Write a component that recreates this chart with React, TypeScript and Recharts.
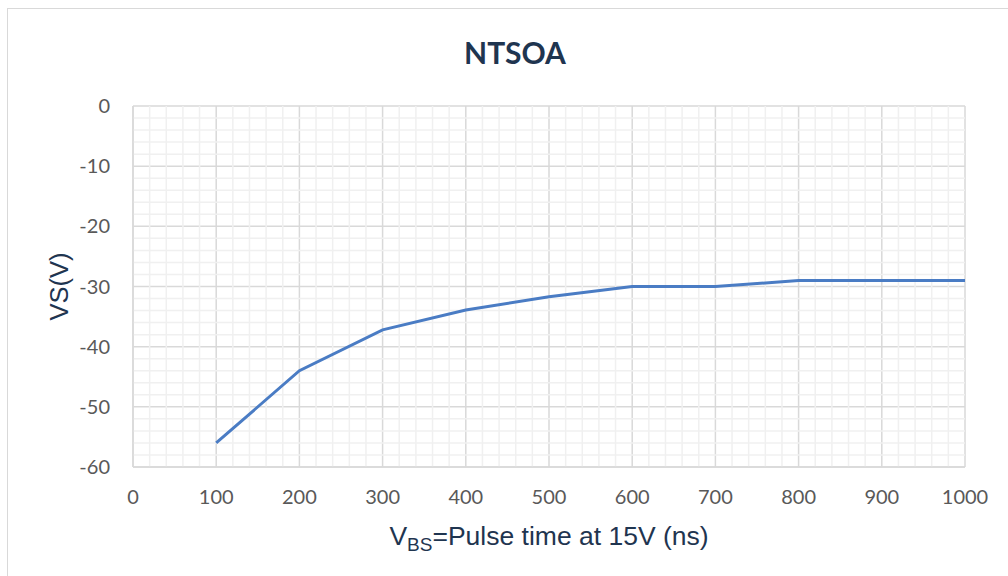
import { LineChart, Line, XAxis, YAxis, CartesianGrid, ReferenceLine, Label } from 'recharts';

// pulse time (ns) vs VS (V)
const pulseTime = [100, 200, 300, 400, 500, 600, 700, 800, 900, 1000];
const vsValues = [-56, -44, -37.2, -33.9, -31.7, -30, -30, -29, -29, -29];

const xTicks = [0, 100, 200, 300, 400, 500, 600, 700, 800, 900, 1000];
const yTicks = [-60, -50, -40, -30, -20, -10, 0];
const xMinor = [20, 40, 60, 80, 120, 140, 160, 180, 220, 240, 260, 280, 320, 340, 360, 380, 420, 440, 460, 480, 520, 540, 560, 580, 620, 640, 660, 680, 720, 740, 760, 780, 820, 840, 860, 880, 920, 940, 960, 980];
const yMinor = [-58, -56, -54, -52, -48, -46, -44, -42, -38, -36, -34, -32, -28, -26, -24, -22, -18, -16, -14, -12, -8, -6, -4, -2];

const data = pulseTime.map((t, i) => ({ t, vs: vsValues[i] }));

const TICK_COLOR = '#595959';
const NAVY = '#1f3550';
const MAJOR = '#d9d9d9';
const MINOR = '#f0f0f0';

/** X axis title with the "BS" subscript on V. */
function XTitle(props: any) {
  const vb = props.viewBox || {};
  const cx = vb.x + vb.width / 2;
  return (
    <text x={cx} y={545} textAnchor="middle" fill={NAVY} fontFamily="'Liberation Sans', Arial, sans-serif" fontSize={26.5}>
      <tspan>V</tspan>
      <tspan fontSize={19} dy={6}>BS</tspan>
      <tspan dy={-6}>=Pulse time at 15V (ns)</tspan>
    </text>
  );
}

function YTitle(props: any) {
  const vb = props.viewBox || {};
  const cy = vb.y + vb.height / 2;
  return (
    <text
      x={59}
      y={cy}
      transform={`rotate(-90, 59, ${cy})`}
      textAnchor="middle"
      dominantBaseline="central"
      fill={NAVY}
      fontFamily="'Liberation Sans', Arial, sans-serif"
      fontSize={25.5}
    >
      VS(V)
    </text>
  );
}

export default function App() {
  return (
    <div style={{ position: 'absolute', left: 0, top: 0, width: 1008, height: 576, overflow: 'hidden', background: '#fff' }}>
      <div style={{ position: 'absolute', left: 7, top: 8, width: 1020, height: 600, border: '1.5px solid #d9d9d9', boxSizing: 'border-box' }} />
      <div
        style={{
          position: 'absolute', left: 0, width: 1008, top: 34, textAlign: 'center', paddingLeft: 11,
          fontFamily: 'Lato, sans-serif', fontWeight: 700, fontSize: 30, color: NAVY,
        }}
      >
        NTSOA
      </div>
      <div style={{ position: 'absolute', left: 0, top: 0 }}>
        <LineChart width={1008} height={576} data={data} margin={{ top: 106, right: 43, bottom: 0, left: 0 }}>
          {xMinor.map((v) => (
            <ReferenceLine key={'x' + v} x={v} stroke={MINOR} strokeWidth={1.5} />
          ))}
          {yMinor.map((v) => (
            <ReferenceLine key={'y' + v} y={v} stroke={MINOR} strokeWidth={1.5} />
          ))}
          <CartesianGrid stroke={MAJOR} strokeWidth={1.5} />
          <XAxis
            dataKey="t"
            type="number"
            domain={[0, 1000]}
            ticks={xTicks}
            interval={0}
            axisLine={{ stroke: MAJOR, strokeWidth: 1.5 }}
            tickLine={false}
            tickSize={0}
            tickMargin={23}
            tick={{ fill: TICK_COLOR, fontSize: 20, fontFamily: 'Lato, sans-serif' }}
            height={109}
          >
            <Label content={<XTitle />} />
          </XAxis>
          <YAxis
            type="number"
            domain={[-60, 0]}
            ticks={yTicks}
            interval={0}
            width={133}
            axisLine={{ stroke: MAJOR, strokeWidth: 1.5 }}
            tickLine={false}
            tickSize={0}
            tickMargin={23}
            tick={{ fill: TICK_COLOR, fontSize: 20, fontFamily: 'Lato, sans-serif' }}
          >
            <Label content={<YTitle />} />
          </YAxis>
          <Line
            type="linear"
            dataKey="vs"
            stroke="#4a7cc4"
            strokeWidth={3}
            dot={false}
            isAnimationActive={false}
          />
        </LineChart>
      </div>
    </div>
  );
}
